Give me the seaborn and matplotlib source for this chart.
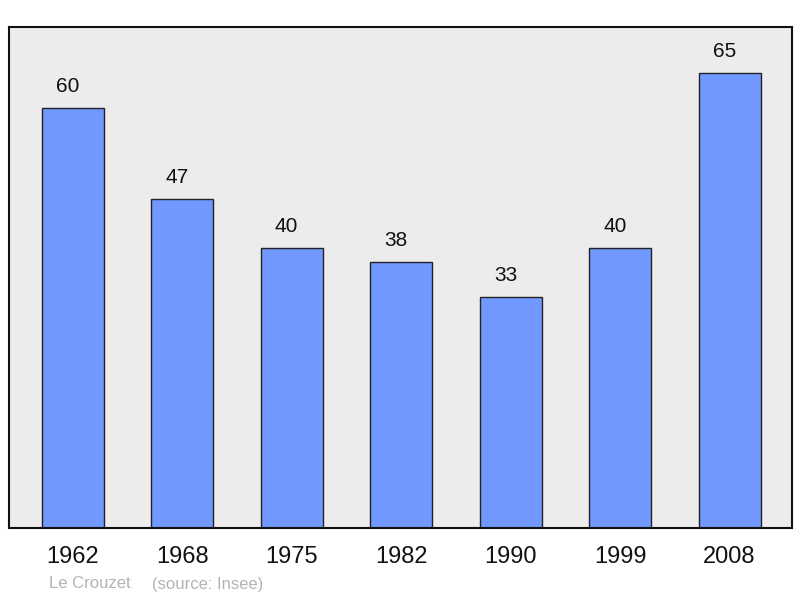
import matplotlib.pyplot as plt
import seaborn as sns
import pandas as pd

years = ['1962', '1968', '1975', '1982', '1990', '1999', '2008']
population = [60, 47, 40, 38, 33, 40, 65]
place = 'Le Crouzet'
source = '(source: Insee)'

sns.set_style('white')
plt.rcParams['font.family'] = ['Liberation Sans', 'DejaVu Sans']

df = pd.DataFrame({'year': years, 'pop': population})

fig = plt.figure(figsize=(8, 5.98), dpi=100)
ax = fig.add_axes([0.01125, 0.117, 0.97875, 0.838])
ax.set_facecolor('#ececec')

sns.barplot(data=df, x='year', y='pop', color='#7098ff', saturation=1,
            width=0.567, edgecolor='#222222', linewidth=1.0, ax=ax)

# value labels sit a little left of the bar centre, as in the original
for i, v in enumerate(population):
    ax.annotate(str(v), (i, v), xytext=(-3.8, 8.5), textcoords='offset points',
                ha='center', va='bottom', fontsize=15, color='#111111')

ax.set_xlim(-0.585, 6.571)
ax.set_ylim(0, 71.6)
ax.set_xlabel('')
ax.set_ylabel('')
ax.set_yticks([])
ax.tick_params(axis='x', length=0, pad=13, labelsize=17, labelcolor='#111111')
for s in ax.spines.values():
    s.set_color('#111111')
    s.set_linewidth(1.5)

fig.text(49 / 800, 1 - 584 / 598, place, fontsize=12, color='#b3b3b3', va='center')
fig.text(152 / 800, 1 - 584 / 598, source, fontsize=12, color='#b3b3b3', va='center')

fig.savefig('out.png', dpi=100)
